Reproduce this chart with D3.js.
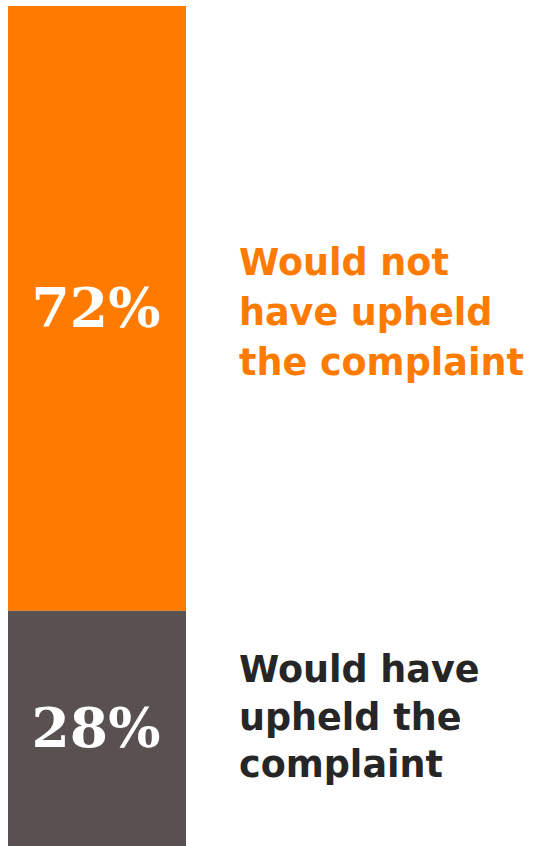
<!DOCTYPE html>
<html>
<head>
<meta charset="utf-8">
<script src="https://cdn.jsdelivr.net/npm/d3@7"></script>
<style>
  html, body { margin: 0; padding: 0; background: #ffffff; }
  svg { display: block; }
</style>
</head>
<body>
<div id="chart"></div>
<script>
// Share of responses, stacked top to bottom in one bar
const categories = ["Would not have upheld the complaint", "Would have upheld the complaint"];
const values = [72, 28];
const labelLines = [
  ["Would not", "have upheld", "the complaint"],
  ["Would have", "upheld the", "complaint"]
];
const colors = ["#FF7B00", "#595050"];
const textColors = ["#FF7B00", "#262626"];

const width = 534, height = 846;
const barLeft = 8, barRight = 186, barTop = 6, barBottom = 846;

const svg = d3.select("#chart").append("svg")
  .attr("width", width).attr("height", height);

const y = d3.scaleLinear().domain([0, d3.sum(values)]).range([barTop, barBottom]);
const x = d3.scaleBand().domain(["all"]).range([barLeft, barRight]).padding(0);

// cumulative offsets for the stack
const segs = [];
let acc = 0;
values.forEach((v, i) => {
  segs.push({ cat: categories[i], value: v, y0: acc, y1: acc + v, i });
  acc += v;
});

const g = svg.append("g");

g.selectAll("rect.seg").data(segs).join("rect")
  .attr("class", "seg")
  .attr("x", x("all"))
  .attr("width", x.bandwidth())
  .attr("y", d => y(d.y0))
  .attr("height", d => y(d.y1) - y(d.y0))
  .attr("fill", d => colors[d.i]);

// percentage inside each segment
g.selectAll("text.pct").data(segs).join("text")
  .attr("class", "pct")
  .attr("x", x("all") + x.bandwidth() / 2 - 1)
  .attr("y", d => (y(d.y0) + y(d.y1)) / 2 + 19)
  .attr("text-anchor", "middle")
  .attr("fill", "#ffffff")
  .style("font-family", "'DejaVu Serif', serif")
  .style("font-weight", "bold")
  .style("font-size", "55px")
  .text(d => d.value + "%");

// category labels to the right of the bar
const lineGap = [50, 47.5];
const firstBaseline = [275, 682];
segs.forEach(d => {
  const t = g.append("text")
    .attr("x", 239)
    .attr("fill", textColors[d.i])
    .style("font-family", "'DejaVu Sans', sans-serif")
    .style("font-weight", "bold")
    .style("font-size", "36.5px");
  labelLines[d.i].forEach((ln, k) => {
    t.append("tspan")
      .attr("x", 239)
      .attr("y", firstBaseline[d.i] + k * lineGap[d.i])
      .text(ln);
  });
});
</script>
</body>
</html>
